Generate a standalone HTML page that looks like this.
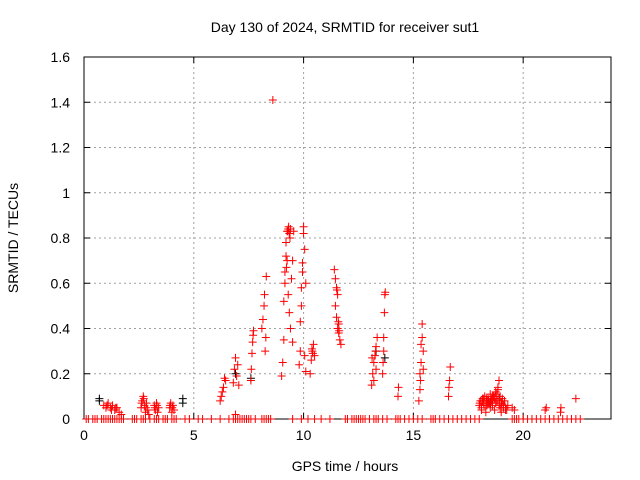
<!DOCTYPE html>
<html><head><meta charset="utf-8">
<style>
body{margin:0;background:#fff;}
svg{display:block;font-family:"Liberation Sans",sans-serif;}
</style></head>
<body>
<svg id="chart" width="640" height="480" viewBox="0 0 640 480"></svg>
<script>
const xTicks=[0,5,10,15,20];
const yTicks=[0,0.2,0.4,0.6,0.8,1,1.2,1.4,1.6];
const yTickLabels=["0","0.2","0.4","0.6","0.8","1","1.2","1.4","1.6"];
const redTimes=[0.9,1.0,1.1,1.2,1.3,1.4,1.5,1.6,1.7,1.05,1.25,1.45,
2.6,2.65,2.7,2.75,2.8,2.85,2.9,2.95,2.62,2.72,2.82,
3.2,3.25,3.3,3.35,3.4,3.22,3.32,
3.9,3.95,4.0,4.05,4.1,3.92,4.02,
6.2,6.25,6.3,6.35,6.4,6.45,
6.8,6.85,6.9,6.9,6.95,7.0,7.05,
7.6,7.62,7.65,7.68,7.7,7.72,
8.1,8.15,8.2,8.22,8.25,8.28,8.3,
8.6,
9.0,9.05,9.1,9.1,9.15,9.15,9.2,9.2,9.25,9.25,9.3,9.3,9.35,9.35,9.4,9.4,9.45,9.5,9.5,9.55,9.28,9.32,9.38,9.22,
9.8,9.85,9.85,9.9,9.9,9.95,9.95,10.0,10.0,10.05,10.05,10.1,10.1,
10.3,10.35,10.4,10.45,10.5,10.38,10.42,
11.4,11.45,11.5,11.55,11.5,11.6,11.6,11.65,11.55,11.7,11.45,11.52,11.62,11.58,
13.1,13.15,13.2,13.25,13.3,13.35,13.2,13.3,13.12,13.28,
13.6,13.62,13.65,13.68,13.7,13.72,13.65,
14.3,14.32,
15.25,15.3,15.3,15.35,15.35,15.4,15.4,15.45,15.45,15.32,
16.6,16.62,16.65,16.68,
18.0,18.05,18.1,18.15,18.2,18.25,18.3,18.35,18.4,18.45,18.5,18.55,18.6,18.65,18.7,18.75,18.8,18.85,18.9,18.95,19.0,19.05,19.1,19.15,19.2,19.25,19.3,
18.1,18.2,18.3,18.4,18.5,18.6,18.7,18.8,18.9,19.0,19.1,19.2,
18.15,18.35,18.55,18.75,18.85,18.95,19.05,
18.02,18.12,18.22,18.32,18.42,18.52,18.62,18.72,18.82,18.92,19.02,
19.5,19.6,21.0,21.05,21.7,21.72,22.4];
const redValues=[0.06,0.05,0.07,0.05,0.06,0.04,0.05,0.03,0.02,0.06,0.04,0.05,
0.05,0.08,0.1,0.06,0.03,0.07,0.04,0.02,0.07,0.09,0.05,
0.06,0.04,0.07,0.03,0.05,0.05,0.06,
0.05,0.07,0.03,0.06,0.04,0.06,0.05,
0.08,0.1,0.12,0.14,0.18,0.17,
0.16,0.22,0.27,0.02,0.19,0.24,0.15,
0.17,0.22,0.29,0.34,0.37,0.39,
0.4,0.44,0.5,0.55,0.3,0.36,0.63,
1.41,
0.19,0.25,0.35,0.52,0.6,0.65,0.72,0.78,0.7,0.83,0.84,0.55,0.82,0.47,0.84,0.4,0.62,0.34,0.7,0.83,0.83,0.85,0.8,0.67,
0.24,0.3,0.43,0.5,0.58,0.65,0.69,0.82,0.85,0.75,0.28,0.6,0.21,
0.2,0.26,0.3,0.33,0.28,0.31,0.29,
0.66,0.62,0.58,0.55,0.45,0.42,0.38,0.35,0.4,0.33,0.5,0.57,0.39,0.43,
0.15,0.2,0.25,0.28,0.32,0.36,0.17,0.22,0.27,0.3,
0.2,0.25,0.3,0.47,0.55,0.56,0.36,
0.1,0.14,
0.08,0.13,0.2,0.25,0.33,0.36,0.42,0.3,0.22,0.17,
0.1,0.14,0.17,0.23,
0.06,0.08,0.05,0.09,0.07,0.1,0.06,0.08,0.09,0.07,0.11,0.08,0.06,0.1,0.09,0.12,0.08,0.14,0.17,0.1,0.07,0.09,0.06,0.08,0.05,0.04,0.06,
0.04,0.09,0.03,0.07,0.05,0.1,0.04,0.11,0.06,0.03,0.05,0.04,
0.08,0.06,0.09,0.07,0.13,0.05,0.08,
0.07,0.08,0.06,0.09,0.08,0.07,0.09,0.1,0.08,0.09,0.07,
0.05,0.04,0.04,0.05,0.03,0.05,0.09];
const blackTimes=[0.7,0.7,4.5,4.5,6.9,7.6,13.3,13.7,18.5,18.9];
const blackValues=[0.08,0.09,0.07,0.09,0.2,0.18,0.3,0.27,0.07,0.09];
const zeroTimes=[0.1,0.2,0.4,0.5,0.6,0.8,0.9,1.0,1.1,1.2,1.3,1.4,1.5,1.6,1.7,1.8,2.2,2.3,2.4,2.6,2.7,2.8,3.0,3.2,3.3,3.4,3.6,3.7,3.8,4.0,4.1,4.2,4.6,4.8,5.2,5.4,5.8,6.2,6.6,6.8,6.9,7.0,7.1,7.2,7.3,7.4,7.5,7.6,7.8,8.1,8.2,8.3,8.4,8.5,9.5,9.9,10.2,10.5,10.8,11.2,11.9,12.0,12.2,12.3,12.4,12.5,12.6,12.7,12.8,13.0,13.2,13.3,13.4,13.6,13.8,14.2,14.3,14.4,14.6,14.8,15.0,15.2,15.4,15.8,15.9,16.0,16.2,16.4,16.6,16.8,17.0,17.2,17.4,17.6,17.8,18.0,19.5,19.6,19.7,19.8,20.0,20.2,20.4,20.6,20.8,21.0,21.2,21.4,21.6,21.8,22.0,22.2,22.4,22.6];

const L=84,R=611,T=57,B=419,XMAX=24,YMAX=1.6;
const sx=t=>L+(t/XMAX)*(R-L);
const sy=v=>B-(v/YMAX)*(B-T);
const NS="http://www.w3.org/2000/svg";
const svg=document.getElementById('chart');
function mk(tag,attrs,parent){const e=document.createElementNS(NS,tag);for(const k in attrs)e.setAttribute(k,attrs[k]);(parent||svg).appendChild(e);return e;}

const grid=mk('g',{});


xTicks.forEach(t=>{if(t>0){const l=mk('line',{x1:sx(t),x2:sx(t),y1:T,y2:B,stroke:'#a0a0a0','stroke-dasharray':'2,3'},grid);

}});
yTicks.forEach(v=>{if(v>0&&v<YMAX){const l=mk('line',{x1:L,x2:R,y1:sy(v),y2:sy(v),stroke:'#a0a0a0','stroke-dasharray':'2,3'},grid);

}});

const axes=mk('g',{stroke:'#000'});


xTicks.forEach(t=>{mk('line',{x1:sx(t),x2:sx(t),y1:B,y2:B-6},axes);mk('line',{x1:sx(t),x2:sx(t),y1:T,y2:T+6},axes);
const tx=mk('text',{x:sx(t),y:B+21,'text-anchor':'middle','font-size':'14',fill:'#000',stroke:'none'});tx.textContent=t;

});
yTicks.forEach((v,i)=>{mk('line',{x1:L,x2:L+6,y1:sy(v),y2:sy(v)},axes);mk('line',{x1:R,x2:R-6,y1:sy(v),y2:sy(v)},axes);
const tx=mk('text',{x:L-14,y:sy(v)+5,'text-anchor':'end','font-size':'14',fill:'#000',stroke:'none'});tx.textContent=yTickLabels[i];

});
const frame=mk('rect',{x:L,y:T,width:R-L,height:B-T,fill:'none',stroke:'#000'});



function plus(g,x,y,c){mk('path',{d:`M${x-4},${y}h8M${x},${y-4}v8`,stroke:c,'stroke-width':'1','fill':'none'},g);}
const blk=mk('g',{});


blackTimes.forEach((t,i)=>plus(blk,sx(t),sy(blackValues[i]),'#000'));
const red=mk('g',{});


redTimes.forEach((t,i)=>plus(red,sx(t),sy(redValues[i]),'#f00'));
zeroTimes.forEach(t=>plus(red,sx(t),sy(0),'#f00'));

const title=mk('text',{x:345,y:32,'text-anchor':'middle','font-size':'14',fill:'#000'});title.textContent='Day 130 of 2024, SRMTID for receiver sut1';


const xl=mk('text',{x:345,y:471,'text-anchor':'middle','font-size':'14',fill:'#000'});xl.textContent='GPS time / hours';


const yl=mk('text',{x:18,y:238,'text-anchor':'middle','font-size':'14',fill:'#000',transform:'rotate(-90 18 238)'});yl.textContent='SRMTID / TECUs';


</script>
</body></html>
